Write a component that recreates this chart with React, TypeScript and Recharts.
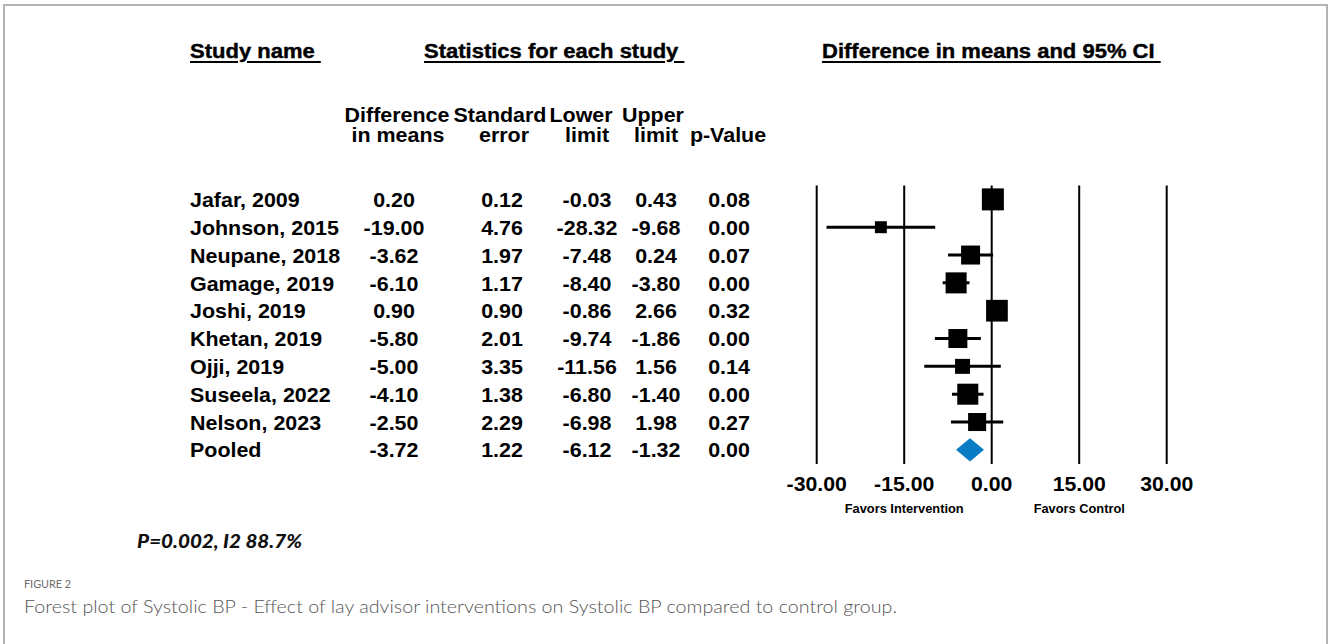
import React from "react";
import { ComposedChart, Bar, XAxis, YAxis, CartesianGrid } from "recharts";

// forest plot data
const studies = [
  "Jafar, 2009",
  "Johnson, 2015",
  "Neupane, 2018",
  "Gamage, 2019",
  "Joshi, 2019",
  "Khetan, 2019",
  "Ojji, 2019",
  "Suseela, 2022",
  "Nelson, 2023",
  "Pooled",
];
const diffMeans = [0.2, -19.0, -3.62, -6.1, 0.9, -5.8, -5.0, -4.1, -2.5, -3.72];
const stdErrors = [0.12, 4.76, 1.97, 1.17, 0.9, 2.01, 3.35, 1.38, 2.29, 1.22];
const lowerLimits = [-0.03, -28.32, -7.48, -8.4, -0.86, -9.74, -11.56, -6.8, -6.98, -6.12];
const upperLimits = [0.43, -9.68, 0.24, -3.8, 2.66, -1.86, 1.56, -1.4, 1.98, -1.32];
const pValues = [0.08, 0.0, 0.07, 0.0, 0.32, 0.0, 0.14, 0.0, 0.27, 0.0];
// relative weights (%)
const weights = [14.9, 4.4, 11.1, 13.6, 14.5, 11.1, 6.9, 13.6, 10.0, 0];

const xTicks = [-30, -15, 0, 15, 30];
const favorsTicks = [-15, 15];
const favorsLabels = ["Favors Intervention", "Favors Control"];

const rows = studies.map((name, i) => ({
  name,
  diff: diffMeans[i],
  se: stdErrors[i],
  lower: lowerLimits[i],
  upper: upperLimits[i],
  p: pValues[i],
  weight: weights[i],
  pooled: name === "Pooled",
}));
const maxWeight = Math.max(...weights);

const FONT = '"Liberation Sans", Arial, Helvetica, sans-serif';
const SX = 1.1;
const cols = { name: 190, diff: 394, se: 502, lower: 587, upper: 656, p: 729 };

function cell(key: string, x: number, y: number, text: string, anchor = "middle", size = 19.5) {
  return (
    <text
      key={key}
      transform={`translate(${x},${y}) scale(${SX},1)`}
      textAnchor={anchor}
      fontFamily={FONT}
      fontWeight="bold"
      fontSize={size}
      fill="#000"
    >
      {text}
    </text>
  );
}

function RowTick(props: any) {
  const { y, payload } = props;
  const r = rows.find((d) => d.name === payload.value);
  if (!r) return null;
  const b = y + 7.5;
  return (
    <g>
      {cell("n", cols.name, b, r.name, "start")}
      {cell("d", cols.diff, b, r.diff.toFixed(2))}
      {cell("s", cols.se, b, r.se.toFixed(2))}
      {cell("l", cols.lower, b, r.lower.toFixed(2))}
      {cell("u", cols.upper, b, r.upper.toFixed(2))}
      {cell("p", cols.p, b, r.p.toFixed(2))}
    </g>
  );
}

function ValueTick(props: any) {
  const { x, y, payload } = props;
  return (
    <text
      transform={`translate(${x},${y}) scale(1.09,1)`}
      y={13.85}
      textAnchor="middle"
      fontFamily={FONT}
      fontWeight="bold"
      fontSize={19.5}
      fill="#000"
    >
      {Number(payload.value).toFixed(2)}
    </text>
  );
}

function FavorsTick(props: any) {
  const { x, y, payload } = props;
  const i = favorsTicks.indexOf(payload.value);
  return (
    <text
      transform={`translate(${x},${y}) scale(1.07,1)`}
      y={8.6}
      textAnchor="middle"
      fontFamily={FONT}
      fontWeight="bold"
      fontSize={12}
      fill="#000"
    >
      {favorsLabels[i]}
    </text>
  );
}

function CiShape(props: any) {
  const { x, y, width, height, payload } = props;
  const cy = y + height / 2;
  const fx = x + (width * (payload.diff - payload.lower)) / (payload.upper - payload.lower);
  if (payload.pooled) {
    const h = 11.7;
    return (
      <polygon
        points={`${x},${cy} ${fx},${cy - h} ${x + width},${cy} ${fx},${cy + h}`}
        fill="#0a7cc4"
      />
    );
  }
  const s = 22 * Math.sqrt(payload.weight / maxWeight);
  return (
    <g>
      <line x1={x} x2={x + width} y1={cy} y2={cy} stroke="#000" strokeWidth={3} />
      <rect x={fx - s / 2} y={cy - s / 2} width={s} height={s} fill="#000" />
    </g>
  );
}

const titleStyle: React.CSSProperties = {
  position: "absolute",
  top: 40.6,
  fontFamily: FONT,
  fontWeight: "bold",
  fontSize: 20,
  lineHeight: "20px",
  whiteSpace: "pre",
  color: "#000",
  WebkitTextStroke: "0.4px #000",
  transform: "scaleX(1.1)",
  transformOrigin: "left center",
  textDecoration: "underline",
  textDecorationThickness: "2px",
  textUnderlineOffset: "3px",
};

export default function App() {
  return (
    <div
      style={{
        position: "absolute",
        left: 0,
        top: 0,
        width: 1328,
        height: 644,
        background: "#fff",
        overflow: "hidden",
      }}
    >
      <div
        style={{
          position: "absolute",
          left: 3,
          top: 4,
          width: 1325,
          height: 700,
          boxSizing: "border-box",
          border: "2px solid #b3b3b3",
          borderBottom: "none",
        }}
      />

      <div style={{ ...titleStyle, left: 190 }}>{"Study name "}</div>
      <div style={{ ...titleStyle, left: 424 }}>{"Statistics for each study "}</div>
      <div style={{ ...titleStyle, left: 822 }}>{"Difference in means and 95% CI "}</div>

      <svg
        width={1328}
        height={644}
        style={{ position: "absolute", left: 0, top: 0 }}
      >
        {cell("h1", 397, 122, "Difference")}
        {cell("h2", 500, 122, "Standard")}
        {cell("h3", 581, 122, "Lower")}
        {cell("h4", 653, 122, "Upper")}
        {cell("h5", 398, 142, "in means")}
        {cell("h6", 504, 142, "error")}
        {cell("h7", 587, 142, "limit")}
        {cell("h8", 656, 142, "limit")}
        {cell("h9", 728, 142, "p-Value")}

        <text
          x={137}
          y={548}
          fontFamily="Lato, 'Open Sans', sans-serif"
          fontWeight={900}
          fontStyle="italic"
          fontSize={18.5}
          textLength={165}
          lengthAdjust="spacingAndGlyphs"
          fill="#111"
        >
          P=0.002, I2 88.7%
        </text>
        <text
          x={24}
          y={588}
          fontFamily="Lato, sans-serif"
          fontSize={11}
          textLength={47}
          lengthAdjust="spacingAndGlyphs"
          fill="#6e6e6e"
        >
          FIGURE 2
        </text>
        <text
          x={24}
          y={613}
          fontFamily="Lato, sans-serif"
          fontWeight={300}
          fontSize={17.5}
          textLength={873}
          lengthAdjust="spacingAndGlyphs"
          fill="#555"
        >
          Forest plot of Systolic BP - Effect of lay advisor interventions on Systolic BP compared to control group.
        </text>
      </svg>

      <div style={{ position: "absolute", left: 0, top: 0 }}>
        <ComposedChart
          width={1328}
          height={530}
          data={rows}
          layout="vertical"
          margin={{ top: 185.6, right: 161.3, bottom: 0, left: 0 }}
        >
          <CartesianGrid horizontal={false} stroke="#000" strokeWidth={2} />
          <XAxis
            type="number"
            domain={[-30, 30]}
            ticks={xTicks}
            interval={0}
            allowDataOverflow
            axisLine={false}
            tickLine={false}
            tickSize={6}
            tickMargin={7}
            height={30}
            tick={<ValueTick />}
          />
          <XAxis
            xAxisId="fav"
            type="number"
            domain={[-30, 30]}
            ticks={favorsTicks}
            interval={0}
            allowDataOverflow
            axisLine={false}
            tickLine={false}
            tickSize={6}
            tickMargin={4.2}
            height={36.1}
            tick={<FavorsTick />}
          />
          <YAxis
            type="category"
            dataKey="name"
            width={816.7}
            interval={0}
            axisLine={false}
            tickLine={false}
            tick={<RowTick />}
          />
          <Bar
            dataKey={(d: any) => [d.lower, d.upper]}
            shape={(p: any) => <CiShape {...p} />}
            isAnimationActive={false}
          />
        </ComposedChart>
      </div>
    </div>
  );
}
